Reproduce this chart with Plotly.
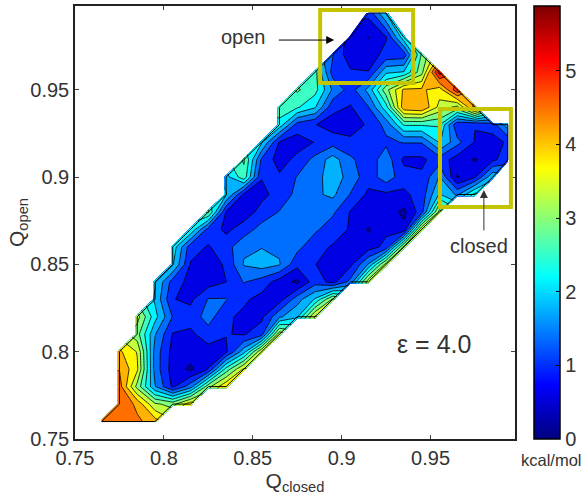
import plotly.graph_objects as go

_ = None
q_closed = [.765,.775,.785,.795,.805,.815,.825,.835,.845,.855,.865,.875,
            .885,.895,.905,.915,.925,.935,.945,.955,.965,.975,.985,.9935]
q_open = [.76,.77,.78,.79,.80,.81,.82,.83,.84,.85,.86,.87,.88,.89,.90,.91,
          .92,.93,.94,.95,.96,.97,.98,.994]

r76 = [4.7,4.7,4.4,4.1]
r77 = [_,4.7,4.2,3.2,3.0,3.8]
r78 = [_,4.5,3.0,1.6,.7,1.4,3.0,3.9]
r79 = [_,4.3,3.6,1.4,.6,.3,.8,2.5,3.6]
r80 = [_,4.0,3.5,1.4,.65,.6,.62,.7,1.8,3.5]
r81 = [_,_,2.9,1.6,.75,.7,1.0,.8,.75,1.0,3.4]
r82 = [_,_,3.3,2.1,1.15,.95,1.35,.85,.7,.7,1.5,1.9,3.6]
r83 = [_,_,_,1.9,.8,.7,1.2,1.2,.85,.65,.6,1.4,2.0,3.2]
r84 = [_,_,_,2.0,1.0,.65,.6,.78,1.2,1.0,.6,.3,1.0,.65,1.3,3.4]
r85 = [_,_,_,_,2.0,.75,.55,.85,1.6,1.75,1.6,.9,.8,.5,.7,1.6,3.3]
r86 = [_,_,_,_,2.2,.95,.75,1.0,1.5,1.55,1.5,1.3,.9,.75,.6,.6,.9,3.2]
r87 = [_,_,_,_,_,2.3,1.0,.7,.95,1.35,1.45,1.4,1.25,.95,.75,.35,.7,.5,3.5]
r88 = [_,_,_,_,_,_,2.8,.75,.6,.9,1.2,1.35,1.35,1.25,.75,.65,.6,.3,1.0,3.3]
r89 = [_,_,_,_,_,_,_,2.0,.7,.7,.9,1.3,1.5,1.65,1.15,.7,.7,.7,.95,2.0,1.5,2.5]
r90 = [_,_,_,_,_,_,_,1.8,2.6,.8,.85,1.2,1.4,1.8,1.4,.95,1.4,.95,.85,1.6,.35,.75,1.9]
r91 = [_,_,_,_,_,_,_,_,2.8,1.1,.6,.9,1.3,1.75,1.25,.95,1.4,.7,.7,1.0,.6,.35,.7,1.0]
r92 = [_,_,_,_,_,_,_,_,_,2.0,.75,.6,.8,1.0,.9,.85,1.1,1.2,1.2,2.0,1.3,.75,.6,.85]
r93 = [_,_,_,_,_,_,_,_,_,_,2.2,1.0,.8,.6,.55,.85,1.3,2.4,2.4,2.4,.85,.8,1.0,1.8]
r94 = [_,_,_,_,_,_,_,_,_,_,2.6,2.4,2.0,.9,.75,1.15,2.2,4.2,4.3,3.4,3.0,4.5]
r95 = [_,_,_,_,_,_,_,_,_,_,_,2.8,2.5,1.5,1.0,1.7,3.0,4.0,4.0,3.7,5.0]
r96 = [_,_,_,_,_,_,_,_,_,_,_,_,2.5,1.0,.85,.8,1.9,2.0,3.0,5.3]
r97 = [_,_,_,_,_,_,_,_,_,_,_,_,_,1.2,.5,.6,.9,.95,2.8]
r98 = [_,_,_,_,_,_,_,_,_,_,_,_,_,_,.6,.38,.75,2.2]
r99 = [_,_,_,_,_,_,_,_,_,_,_,_,_,_,_,.9,2.0]
rows = [r76,r77,r78,r79,r80,r81,r82,r83,r84,r85,r86,r87,r88,r89,r90,r91,r92,
        r93,r94,r95,r96,r97,r98,r99]
z = [r + [None]*(len(q_closed)-len(r)) for r in rows]

x_ticks = [.75,.8,.85,.9,.95]
x_labels = ["0.75","0.8","0.85","0.9","0.95"]
y_ticks = [.75,.8,.85,.9,.95]
y_labels = ["0.75","0.8","0.85","0.9","0.95"]
cbar_ticks = [0,1,2,3,4,5]

Z_MAX = 5.88
jet = [[0,'#00007F'],[.125,'#0000FF'],[.375,'#00FFFF'],[.625,'#FFFF00'],
       [.875,'#FF0000'],[1,'#7F0000']]
FONT = "Liberation Sans"
TXT = "#333333"

fig = go.Figure()
fig.add_trace(go.Contour(
    x=q_closed, y=q_open, z=z, colorscale=jet, zmin=0, zmax=Z_MAX,
    connectgaps=False, showscale=False, hoverinfo="skip",
    contours=dict(start=0, end=Z_MAX, size=Z_MAX/15, coloring="fill"),
    line=dict(color="black", width=0.8, smoothing=0),
))

# outline of the populated region, walked from the grid mask
first = [next(i for i, v in enumerate(r) if v is not None) for r in z]
last = [max(i for i, v in enumerate(r) if v is not None) for r in z]

def side(cols):
    pts = [(cols[0], 0)]
    for j in range(len(cols) - 1):
        a, b = cols[j], cols[j + 1]
        if abs(b - a) > 1:
            step = 1 if b > a else -1
            if (cols is last) == (b > a):
                pts += [(a + step, j + 1), (b, j + 1)]
            else:
                pts += [(b - step, j), (b, j + 1)]
        else:
            pts.append((b, j + 1))
    return pts

path = side(first) + side(last)[::-1]
path.append(path[0])
fig.add_trace(go.Scatter(x=[q_closed[i] for i, _j in path], y=[q_open[j] for _i, j in path],
                         mode="lines", line=dict(color="black", width=1),
                         hoverinfo="skip", showlegend=False))

# continuous colour bar: a heatmap parked off the visible axis range
fig.add_trace(go.Heatmap(
    x=[0, .1], y=[0, .1], z=[[0, Z_MAX], [0, Z_MAX]], colorscale=jet, zmin=0, zmax=Z_MAX, hoverinfo="skip",
    colorbar=dict(x=(534-75)/440, xanchor="left", xref="paper", y=0, yanchor="bottom",
            len=1, lenmode="fraction", yref="paper", thickness=26, thicknessmode="pixels",
            outlinecolor="black", outlinewidth=1.5, tickvals=cbar_ticks, ticks="inside",
            ticklen=4, tickcolor="black", tickfont=dict(family=FONT, size=20, color=TXT),
            xpad=0, ypad=0)))

axis = dict(ticks="inside", ticklen=4, mirror="ticks", showline=True, linecolor="#222222",
            linewidth=1.5, showgrid=False, zeroline=False,
            tickfont=dict(family=FONT, size=20, color=TXT))
fig.update_xaxes(range=[.75,.9975], tickvals=x_ticks, ticktext=x_labels,
                 title=dict(text="Q<sub>closed</sub>", font=dict(family=FONT, size=21, color=TXT), standoff=0), **axis)
fig.update_yaxes(range=[.75,.998], tickvals=y_ticks, ticktext=y_labels,
                 title=dict(text="Q<sub>open</sub>", font=dict(family=FONT, size=21, color=TXT), standoff=0), **axis)

box = dict(type="rect", line=dict(color="#C4C400", width=4), xref="x", yref="y")
fig.add_shape(x0=.8879, x1=.9402, y0=.9539, y1=.9957, **box)
fig.add_shape(x0=.9553, x1=.9952, y0=.8829, y1=.939, **box)

note = dict(showarrow=False, font=dict(family=FONT, size=20, color=TXT), xref="x", yref="y",
            xanchor="center", yanchor="middle")
fig.add_annotation(x=.8447, y=.98, text="open", **note)
fig.add_annotation(x=.977, y=.8605, text="closed", **note)
fig.add_annotation(x=.9522, y=.8044, text="ε = 4.0", showarrow=False, xref="x", yref="y",
                   xanchor="center", yanchor="middle", font=dict(family=FONT, size=25, color=TXT))
fig.add_annotation(x=.8958, y=.9785, ax=.8638, ay=.9785, axref="x", ayref="y", xref="x", yref="y",
                   text="", showarrow=True, arrowhead=2, arrowsize=1.6, arrowwidth=1, arrowcolor="black")
fig.add_annotation(x=.98, y=.8926, ax=.98, ay=.8686, axref="x", ayref="y", xref="x", yref="y",
                   text="", showarrow=True, arrowhead=2, arrowsize=1.6, arrowwidth=1, arrowcolor="#333333")
fig.add_annotation(x=1.082, y=-.0485, xref="paper", yref="paper", text="kcal/mol", showarrow=False,
                   xanchor="center", yanchor="middle", font=dict(family=FONT, size=16.5, color=TXT))

fig.update_layout(width=583, height=496, autosize=False, paper_bgcolor="white", plot_bgcolor="white",
                  margin=dict(l=75, r=68, t=6, b=57, autoexpand=False), showlegend=False)
fig.write_html("out.html", config=dict(displayModeBar=False), post_script="document.body.style.margin='0';")
